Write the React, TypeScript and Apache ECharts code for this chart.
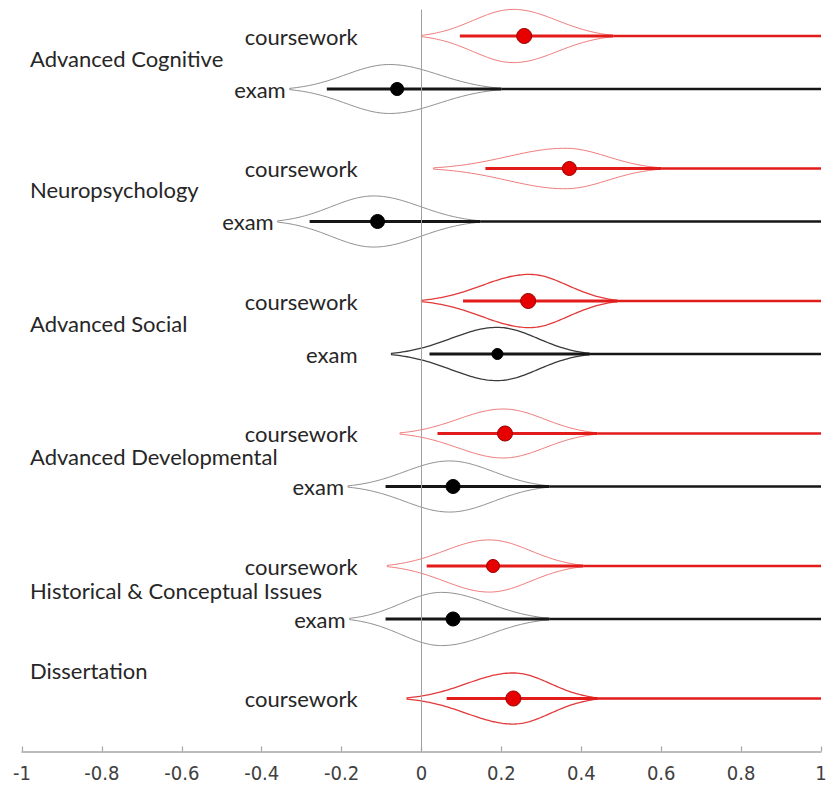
import React, { useEffect, useRef } from "react";
import * as echarts from "echarts";

// ---- data ----
const groupNames = [
  "Advanced Cognitive",
  "Neuropsychology",
  "Advanced Social",
  "Advanced Developmental",
  "Historical & Conceptual Issues",
  "Dissertation",
];
const groupLabelPos = [0.43, 2.9, 5.43, 7.94, 10.47, 11.98];

const rowKind = [
  "coursework", "exam",
  "coursework", "exam",
  "coursework", "exam",
  "coursework", "exam",
  "coursework", "exam",
  "coursework",
];
const rowPos = [0, 1, 2.5, 3.5, 5, 6, 7.5, 8.5, 10, 11, 12.5];
const violinLo = [0.0, -0.33, 0.03, -0.36, 0.0, -0.075, -0.054, -0.184, -0.086, -0.18, -0.036];
const violinPeak = [0.23, -0.08, 0.36, -0.12, 0.27, 0.19, 0.205, 0.07, 0.17, 0.05, 0.23];
const violinHi = [0.48, 0.2, 0.6, 0.147, 0.49, 0.42, 0.44, 0.32, 0.405, 0.32, 0.44];
const violinHalf = [0.49, 0.45, 0.37, 0.47, 0.49, 0.49, 0.45, 0.47, 0.48, 0.49, 0.47];
const ciLower = [0.096, -0.237, 0.16, -0.28, 0.104, 0.02, 0.04, -0.09, 0.013, -0.09, 0.063];
const estimate = [0.257, -0.061, 0.37, -0.11, 0.267, 0.19, 0.209, 0.079, 0.179, 0.079, 0.23];
const lineEnd = 1;

const xMin = -1;
const xMax = 1;
const xStep = 0.2;

// ---- styles ----
const strongOutline = [false, false, false, false, true, true, false, false, false, false, true];
const dotRadius = [7.5, 6.5, 7, 7, 7.5, 5.5, 7.5, 7, 6.5, 7, 7.5];
const TEXT = "#262626";
const FONT = "Lato, 'Open Sans', sans-serif";

export default function App() {
  const ref = useRef<HTMLDivElement>(null);

  useEffect(() => {
    if (!ref.current) return;
    const chart = echarts.init(ref.current, undefined, { renderer: "svg" });

    const violinSeries = {
      type: "custom",
      coordinateSystem: "cartesian2d",
      data: rowPos.map((p, i) => [i, p]),
      renderItem: (params: any, api: any) => {
        const i = api.value(0) as number;
        const pos = rowPos[i];
        const lo = violinLo[i];
        const pk = violinPeak[i];
        const hi = violinHi[i];
        const H = violinHalf[i];
        const isCw = rowKind[i] === "coursework";
        const K = 2.6;
        const e = Math.exp(-K);
        const prof = (x: number) => {
          const t = x < pk ? (pk - x) / (pk - lo) : (x - pk) / (hi - pk);
          return Math.max(0, (Math.exp(-K * t * t) - e) / (1 - e));
        };
        const N = 90;
        const upper: number[][] = [];
        const lower: number[][] = [];
        for (let k = 0; k <= N; k++) {
          const x = lo + ((hi - lo) * k) / N;
          const h = H * prof(x) + 0.012;
          upper.push(api.coord([x, pos - h]));
          lower.push(api.coord([x, pos + h]));
        }
        const pts = upper.concat(lower.reverse());
        const strong = strongOutline[i];
        const outline = isCw
          ? strong ? "#e23a3a" : "#f07a7a"
          : strong ? "#3a3a3a" : "#8f8f8f";
        const lineColor = isCw ? "#e21b1b" : "#161616";
        const a = api.coord([ciLower[i], pos]);
        const b = api.coord([hi, pos]);
        const c = api.coord([lineEnd, pos]);
        const d = api.coord([estimate[i], pos]);
        const labelX = isCw ? -0.16 : Math.min(-0.16, lo - 0.01);
        const lp = api.coord([labelX, pos]);
        return {
          type: "group",
          children: [
            {
              type: "polygon",
              shape: { points: pts },
              style: { fill: "none", stroke: outline, lineWidth: strong ? 1.3 : 1 },
            },
            {
              type: "line",
              shape: { x1: b[0], y1: b[1], x2: c[0], y2: c[1] },
              style: { stroke: lineColor, lineWidth: 2.3 },
            },
            {
              type: "line",
              shape: { x1: a[0], y1: a[1], x2: b[0], y2: b[1] },
              style: { stroke: lineColor, lineWidth: 3 },
            },
            {
              type: "circle",
              shape: { cx: d[0], cy: d[1], r: dotRadius[i] },
              style: {
                fill: isCw ? "#e60000" : "#000000",
                stroke: isCw ? "#9a0000" : "#000000",
                lineWidth: 1,
              },
            },
            {
              type: "text",
              x: lp[0],
              y: lp[1],
              style: {
                text: rowKind[i],
                fill: TEXT,
                font: `22px ${FONT}`,
                align: "right",
                verticalAlign: "middle",
              },
            },
          ],
        };
      },
      markLine: {
        silent: true,
        symbol: "none",
        label: { show: false },
        lineStyle: { color: "#a0a0a0", width: 1, type: "solid" },
        data: [{ xAxis: 0 }],
      },
      z: 3,
    };

    const groupSeries = {
      type: "custom",
      coordinateSystem: "cartesian2d",
      data: groupNames.map((g, i) => [xMin + 0.02, groupLabelPos[i], i]),
      renderItem: (params: any, api: any) => {
        const i = api.value(2) as number;
        const p = api.coord([api.value(0), api.value(1)]);
        return {
          type: "text",
          x: p[0],
          y: p[1],
          style: {
            text: groupNames[i],
            fill: TEXT,
            font: `22px ${FONT}`,
            align: "left",
            verticalAlign: "middle",
          },
        };
      },
      z: 4,
    };

    chart.setOption({
      animation: false,
      backgroundColor: "#ffffff",
      grid: { left: 22, right: 16, top: 9.5, bottom: 35.5, containLabel: false },
      xAxis: {
        type: "value",
        min: xMin,
        max: xMax,
        interval: xStep,
        splitLine: { show: false },
        axisLine: { show: true, onZero: false, lineStyle: { color: "#a6a6a6", width: 1.5 } },
        axisTick: { show: true, inside: true, length: 5, lineStyle: { color: "#a6a6a6", width: 1.2 } },
        axisLabel: {
          color: "#404040",
          fontSize: 20,
          fontFamily: "'Liberation Sans Narrow', 'DejaVu Sans Condensed', sans-serif",
          margin: 11,
          formatter: (v: number) => String(Number(v.toFixed(1))),
        },
      },
      yAxis: {
        type: "value",
        min: -0.5,
        max: 13.5,
        inverse: true,
        show: false,
        splitLine: { show: false },
      },
      series: [violinSeries, groupSeries],
    });

    return () => chart.dispose();
  }, []);

  return (
    <div
      ref={ref}
      style={{ position: "fixed", left: 0, top: 0, width: 837, height: 787, background: "#fff" }}
    />
  );
}
